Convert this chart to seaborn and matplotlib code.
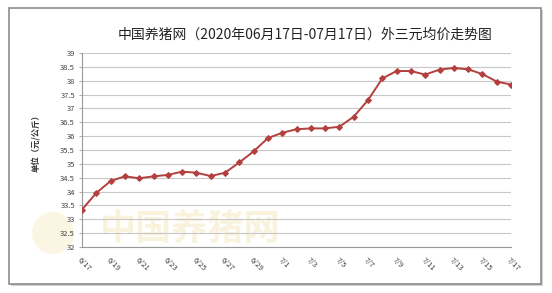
import numpy as np
import pandas as pd
import matplotlib
matplotlib.use("Agg")
import matplotlib.pyplot as plt
from matplotlib.patches import Rectangle, Ellipse
from matplotlib.ticker import FuncFormatter
import seaborn as sns

sns.set_theme(style="white")
plt.rcParams['font.family'] = ['Noto Sans CJK SC', 'DejaVu Sans']

dates = ["6/17", "6/18", "6/19", "6/20", "6/21", "6/22", "6/23", "6/24", "6/25", "6/26",
         "6/27", "6/28", "6/29", "6/30", "7/1", "7/2", "7/3", "7/4", "7/5", "7/6",
         "7/7", "7/8", "7/9", "7/10", "7/11", "7/12", "7/13", "7/14", "7/15", "7/16", "7/17"]
prices = [33.35, 33.95, 34.38, 34.55, 34.48, 34.55, 34.60, 34.72, 34.68, 34.56,
          34.68, 35.05, 35.45, 35.93, 36.12, 36.25, 36.28, 36.28, 36.34, 36.70,
          37.30, 38.08, 38.35, 38.35, 38.22, 38.40, 38.46, 38.41, 38.24, 37.97, 37.86]
yticks = [32, 32.5, 33, 33.5, 34, 34.5, 35, 35.5, 36, 36.5, 37, 37.5, 38, 38.5, 39]
title = "中国养猪网（2020年06月17日-07月17日）外三元均价走势图"
ylabel = "单位（元/公斤）"
watermark = "中国养猪网"

df = pd.DataFrame({"idx": np.arange(len(dates)), "date": dates, "price": prices})

W, H = 552, 293
fig = plt.figure(figsize=(W / 100, H / 100), dpi=100)
fig.patch.set_facecolor("white")

# outer frame with shadow
fig.patches.append(Rectangle((11 / W, 1 - 286 / H), 532 / W, 276 / H, transform=fig.transFigure,
                             facecolor="#d0d0d0", edgecolor="none", zorder=-3))
fig.patches.append(Rectangle((9 / W, 1 - 284 / H), 532 / W, 276 / H, transform=fig.transFigure,
                             facecolor="white", edgecolor="#8c8c8c", linewidth=1.2, zorder=-2))

# watermark
fig.patches.append(Ellipse((53 / W, 1 - 233 / H), 42 / W, 42 / H, transform=fig.transFigure,
                           facecolor="#fbf6e3", edgecolor="none", zorder=-1))
fig.text(190 / W, 1 - 229 / H, watermark, fontsize=26, fontweight="bold", color="#f9f3dd",
         ha="center", va="center", zorder=-1)

ax = fig.add_axes([82 / W, 1 - 247 / H, 429 / W, 194 / H])
ax.set_zorder(2)
ax.patch.set_alpha(0)

sns.lineplot(data=df, x="idx", y="price", ax=ax, color="#b3403e", linewidth=1.4,
             marker="D", markersize=3, markeredgecolor="#b3403e", zorder=3)

ax.set_xlim(0, len(dates) - 1)
ax.set_ylim(32, 39)
ax.set_yticks(yticks)
ax.yaxis.set_major_formatter(FuncFormatter(lambda v, p: "%g" % v))
ax.grid(axis="y", color="#c8c8c8", linewidth=0.8)
ax.set_axisbelow(True)

tick_pos = list(range(0, len(dates), 2))
ax.set_xticks(tick_pos)
ax.set_xticklabels([dates[i] for i in tick_pos], rotation=-45, ha="left", va="top",
                   rotation_mode="anchor", fontsize=5.5, color="#444444")
ax.tick_params(axis="x", length=3, width=0.6, color="#999999", direction="inout", pad=5)
ax.tick_params(axis="y", length=2, width=0.6, color="#999999", labelsize=5.5,
               labelcolor="#444444", pad=3, left=True)

for s in ["top", "right"]:
    ax.spines[s].set_visible(False)
for s in ["left", "bottom"]:
    ax.spines[s].set_color("#999999")
    ax.spines[s].set_linewidth(0.8)
ax.set_xlabel("")
ax.set_ylabel("")

fig.text(305 / W, 1 - 35 / H, title, fontsize=10, fontweight="medium", ha="center",
         va="center", color="#222222")
fig.text(37 / W, 1 - 141 / H, ylabel, fontsize=6, fontweight="bold", rotation=90,
         ha="center", va="center", color="#333333")

fig.savefig("out.png", dpi=100)
